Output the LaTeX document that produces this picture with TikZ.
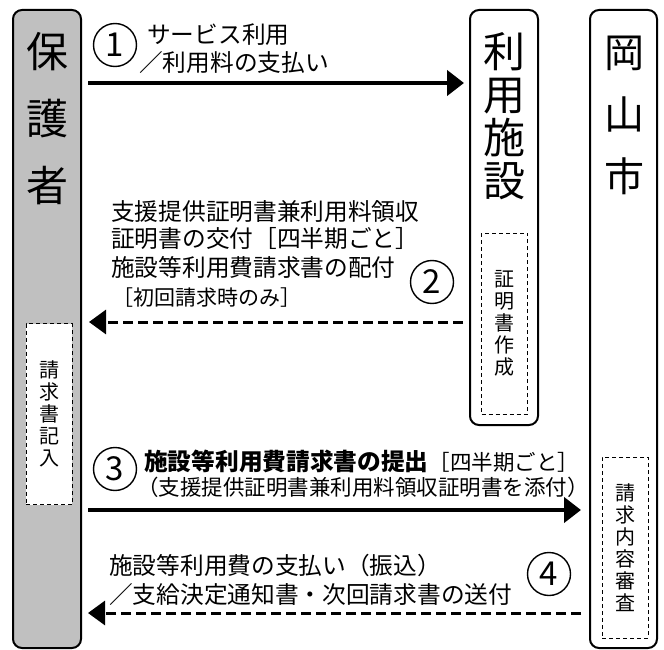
\documentclass[tikz,border=0pt]{standalone}
\usepackage{fontspec}
\usepackage{xcolor}
\usepackage{tikz}
\usetikzlibrary{arrows.meta}
\newfontfamily\jp{Noto Sans CJK JP}
\definecolor{boxgray}{RGB}{192,192,192}

\begin{document}
\begin{tikzpicture}[x=1pt,y=-1pt,
            party/.style={shape=rectangle, rounded corners=9pt, draw, line width=2pt, inner sep=0pt},
            memo/.style={shape=rectangle, draw, fill=white, line width=1pt, dash pattern=on 4pt off 3pt,
                inner sep=0pt, minimum width=46pt, minimum height=181pt, align=center,
                font=\jp\fontsize{20}{22}\selectfont},
            vname/.style={align=center, inner sep=0pt},
            num/.style={shape=circle, draw, line width=1.4pt, minimum size=43pt, inner sep=0pt,
                font=\jp\fontsize{33}{33}\selectfont},
            lbl/.style={anchor=west, inner sep=0pt, font=\jp\fontsize{23.7}{26}\selectfont},
            flow/.style={line width=4.5pt, -{Triangle[length=17pt,width=25pt]}},
            back/.style={line width=3pt, dash pattern=on 10pt off 5pt, -{Triangle[length=17pt,width=24pt]}}]
        \useasboundingbox (0,0) rectangle (664,650);

        % the three parties
        \node[party, fill=boxgray, minimum width=68pt, minimum height=638pt] (guardian) at (47,329) {};
        \node[vname, font=\jp\fontsize{42}{67}\selectfont] (guardianname) at (47.5,119) {保\\護\\者};
        \node[memo] (entry) at (49,414) {請\\求\\書\\記\\入};

        \node[party, minimum width=68pt, minimum height=415pt] (facility) at (504,217.5) {};
        \node[vname, font=\jp\fontsize{42}{43}\selectfont] (facilityname) at (504,116) {利\\用\\施\\設};
        \node[memo] (cert) at (504.5,323.5) {証\\明\\書\\作\\成};

        \node[party, minimum width=67pt, minimum height=638pt] (city) at (623.5,329) {};
        \node[vname, font=\jp\fontsize{40}{62}\selectfont] (cityname) at (624,115) {岡\\山\\市};
        \node[memo] (review) at (625,547.5) {請\\求\\内\\容\\審\\査};

        % rows of the arrows
        \coordinate (r1) at (0,83);
        \coordinate (r2) at (0,322);
        \coordinate (r3) at (0,510);
        \coordinate (r4) at (0,613);

        \draw[flow, shorten <=6pt, shorten >=5pt] (guardian.east |- r1) -- (facility.west |- r1);
        \draw[back, shorten <=6pt, shorten >=7pt] (facility.west |- r2) -- (guardian.east |- r2);
        \draw[flow, shorten <=6pt, shorten >=8pt] (guardian.east |- r3) -- (city.west |- r3);
        \draw[back, shorten <=8pt, shorten >=6pt] (city.west |- r4) -- (guardian.east |- r4);

        % step 1
        \node[num] (n1) at (115,45) {1};
        \node[lbl] (t1a) at (147,35) {サービス利用};
        \node[lbl] (t1b) at (139,62) {／利用料の支払い};

        % step 2
        \node[num] (n2) at (432,282) {2};
        \node[lbl] (t2a) at (111,212) {支援提供証明書兼利用料領収};
        \node[lbl] (t2b) at (111,239) {証明書の交付［四半期ごと］};
        \node[lbl] (t2c) at (111,267) {施設等利用費請求書の配付};
        \node[lbl, font=\jp\fontsize{21}{24}\selectfont] (t2d) at (112,298) {［初回請求時のみ］};

        % step 3
        \node[num] (n3) at (115,469) {3};
        \node[lbl] (t3a) at (144,461) {{\bfseries 施設等利用費請求書の提出}{\fontsize{21.5}{24}\selectfont［四半期ごと］}};
        \node[lbl, font=\jp\fontsize{21.5}{24}\selectfont] (t3b) at (137,487) {（支援提供証明書兼利用料領収証明書を添付）};

        % step 4
        \node[num] (n4) at (549,574) {4};
        \node[lbl] (t4a) at (109,565) {施設等利用費の支払い（振込）};
        \node[lbl] (t4b) at (109,594) {／支給決定通知書・次回請求書の送付};
    \end{tikzpicture}
\end{document}
